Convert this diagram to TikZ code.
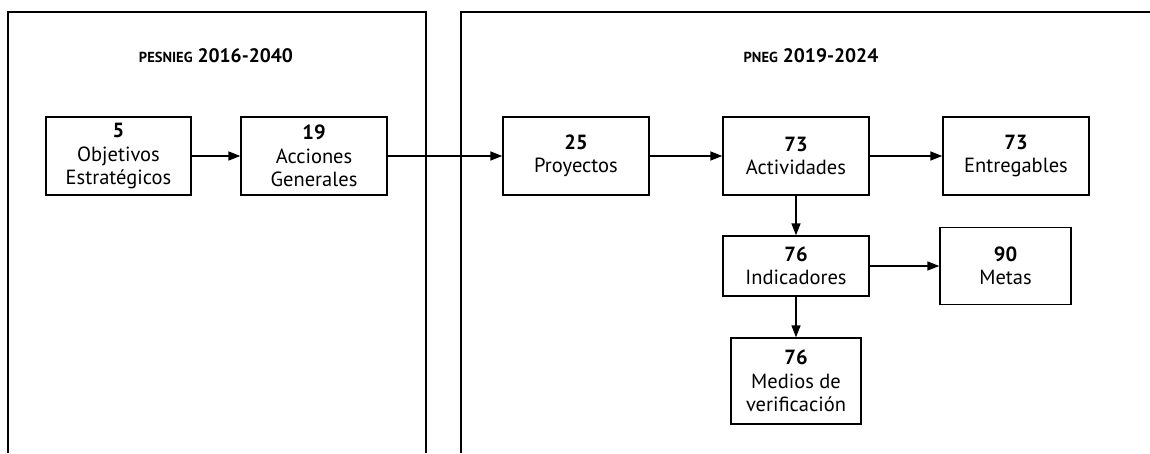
\documentclass[tikz,border=0pt]{standalone}
\usepackage{fontspec}
\setmainfont{PT Sans}
\usetikzlibrary{arrows.meta}
\tikzset{
  caja/.style={draw, line width=1.4pt, align=center, inner sep=0pt,
    font=\fontsize{20.5}{23.5}\selectfont},
  flecha/.style={line width=1.6pt, -{Triangle[length=12pt,width=9pt]}},
  marco/.style={line width=2.4pt},
  titulo/.style={font=\fontsize{19.5}{22}\selectfont\bfseries},
}
\newcommand{\sigla}[1]{{\fontsize{14.5}{16}\selectfont #1}}
\begin{document}
\begin{tikzpicture}[x=1pt,y=-1pt]
\useasboundingbox (0,0) rectangle (1150,453);

% marcos
\draw[marco] (8,453) -- (8,12) -- (426,12) -- (426,453);
\draw[marco] (461,453) -- (461,12) -- (1150,12);

\node[titulo] (tizq) at (216,56) {\sigla{PESNIEG} 2016-2040};
\node[titulo] (tder) at (811,56) {\sigla{PNEG} 2019-2024};

% PESNIEG
\node[caja, minimum width=145pt, minimum height=78pt] (obj) at (118.5,156)
  {\textbf{5}\\Objetivos\\Estratégicos};
\node[caja, minimum width=146pt, minimum height=78pt] (acc) at (314,156)
  {\textbf{19}\\Acciones\\Generales};

% PNEG
\node[caja, minimum width=146pt, minimum height=78pt] (proy) at (576,156)
  {\textbf{25}\\Proyectos};
\node[caja, minimum width=146pt, minimum height=78pt] (act) at (796,156)
  {\textbf{73}\\Actividades};
\node[caja, minimum width=146pt, minimum height=78pt] (ent) at (1016,156)
  {\textbf{73}\\Entregables};
\node[caja, minimum width=146pt, minimum height=60pt] (ind) at (796,266)
  {\textbf{76}\\Indicadores};
\node[caja, minimum width=131pt, minimum height=77pt] (metas) at (1005.5,266)
  {\textbf{90}\\Metas};
\node[caja, minimum width=130pt, minimum height=86pt] (medios) at (796,381)
  {\textbf{76}\\Medios de\\verificación};

\draw[flecha] (obj) -- (acc);
\draw[flecha] (acc) -- (proy);
\draw[flecha] (proy) -- (act);
\draw[flecha] (act) -- (ent);
\draw[flecha] (act) -- (ind);
\draw[flecha] (ind) -- (metas);
\draw[flecha] (ind) -- (medios);
\end{tikzpicture}
\end{document}
